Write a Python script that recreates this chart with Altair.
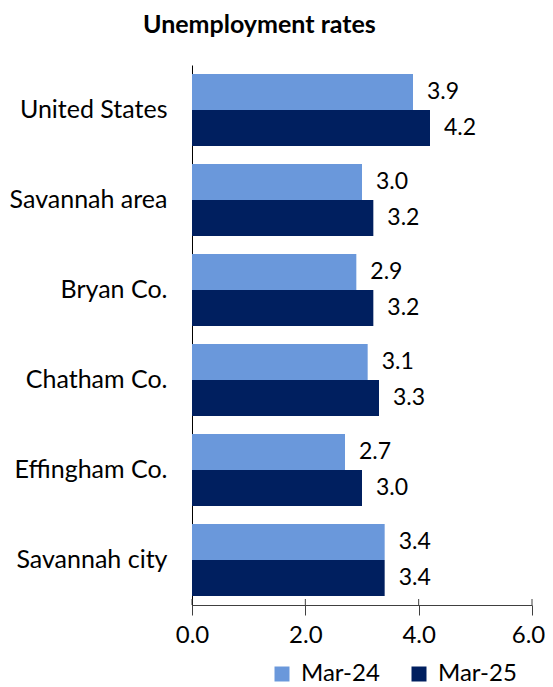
import altair as alt
import pandas as pd

categories = ["United States", "Savannah area", "Bryan Co.", "Chatham Co.", "Effingham Co.", "Savannah city"]
mar24 = [3.9, 3.0, 2.9, 3.1, 2.7, 3.4]
mar25 = [4.2, 3.2, 3.2, 3.3, 3.0, 3.4]
series = ["Mar-24", "Mar-25"]
colors = ["#6A98DB", "#001F5F"]
x_ticks = [0, 2, 4, 6]

rows = []
for c, a, b in zip(categories, mar24, mar25):
    rows.append({"region": c, "period": series[0], "rate": a})
    rows.append({"region": c, "period": series[1], "rate": b})
df = pd.DataFrame(rows)
ticks_df = pd.DataFrame({"t": x_ticks})

FONT = "Lato"

y_enc = alt.Y("region:N", sort=categories, title=None,
              scale=alt.Scale(paddingInner=0.2, paddingOuter=0.1),
              axis=alt.Axis(ticks=False, domainColor="#000000", labelColor="#000000",
                            labelFont=FONT, labelFontSize=25, labelPadding=25, labelLimit=300))
x_enc = alt.X("rate:Q", title=None,
              scale=alt.Scale(domain=[0, 6], nice=False),
              axis=alt.Axis(values=x_ticks, format=".1f", grid=False, tickSize=10,
                            tickColor="#404040", domainColor="#404040", labelColor="#000000",
                            labelFont=FONT, labelFontSize=24, labelPadding=8, labelFlush=False,
                            labelOffset=alt.condition("datum.value == 6", alt.value(-4), alt.value(0))))

base = alt.Chart(df).encode(
    y=y_enc,
    yOffset=alt.YOffset("period:N", sort=series, scale=alt.Scale(paddingInner=0, paddingOuter=0)),
)

bars = base.mark_bar().encode(
    x=x_enc,
    color=alt.Color("period:N", sort=series,
                    scale=alt.Scale(domain=series, range=colors),
                    legend=alt.Legend(title=None, orient="none", direction="horizontal",
                                      legendX=78, legendY=597, symbolType="square",
                                      symbolSize=225, symbolStrokeWidth=0, labelFont=FONT,
                                      labelFontSize=24, labelColor="#000000",
                                      columnPadding=27, labelOffset=7)),
)

labels = base.mark_text(align="left", baseline="middle", dx=14, font=FONT, fontSize=23,
                        color="#000000").encode(
    x=alt.X("rate:Q"),
    text=alt.Text("rate:Q", format=".1f"),
)

inner_ticks = alt.Chart(ticks_df).mark_rule(color="#404040").encode(
    x=alt.X("t:Q"),
    y=alt.value(534),
    y2=alt.value(540),
)

chart = alt.layer(bars, labels, inner_ticks).properties(
    width=340,
    height=540,
    autosize=alt.AutoSizeParams(type="none"),
    padding={"left": 184, "top": 57, "right": 13, "bottom": 82},
    title=alt.TitleParams("Unemployment rates", anchor="start", frame="group", dx=-49, offset=27,
                          font=FONT, fontSize=25, fontWeight="bold", color="#000000"),
).configure_view(stroke=None)

chart.save("out.html", embed_options={"renderer": "svg", "actions": False})
